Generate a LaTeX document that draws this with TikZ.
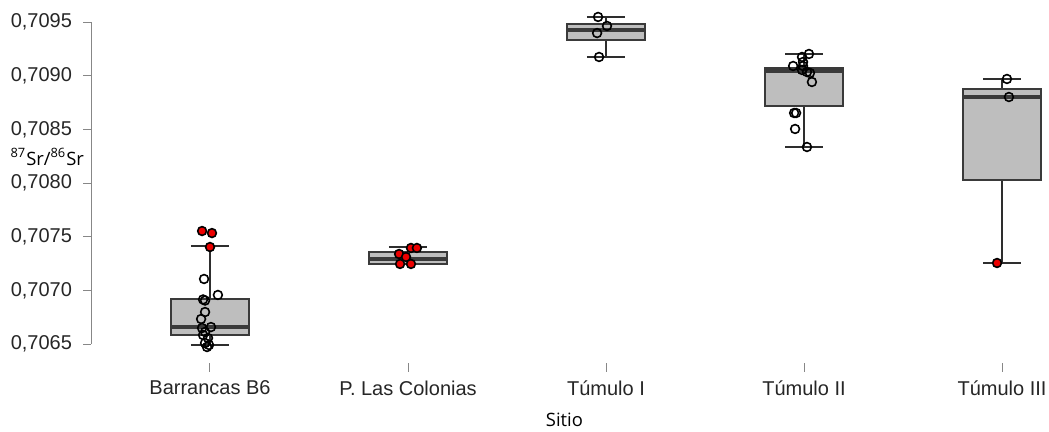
\documentclass[tikz,border=0pt]{standalone}
\usepackage{fontspec}
\setmainfont{Liberation Sans}
\newfontfamily\titlefont{Open Sans}
\usepackage{tikz}
\usetikzlibrary{positioning}
\definecolor{boxgray}{RGB}{190,190,190}
\definecolor{linegray}{RGB}{58,58,58}
\definecolor{axisgray}{RGB}{135,135,135}
\definecolor{ptred}{RGB}{236,0,0}

% #1 site, #2 lower whisker, #3 q1, #4 median, #5 q3, #6 upper whisker
\newcommand{\sitebox}[6]{%
  \draw[whisk] (#1,#2) -- (#1,#3) (#1,#5) -- (#1,#6);
  \draw[whisk] (#1-0.096,#2) -- (#1+0.096,#2);
  \draw[whisk] (#1-0.096,#6) -- (#1+0.096,#6);
  \draw[boxbody] (#1-0.197,#3) rectangle (#1+0.197,#5);
  \draw[median] (#1-0.197,#4) -- (#1+0.197,#4);
}

\begin{document}
\begin{tikzpicture}[
    x=99pt, y=5.365pt,
    whisk/.style={draw=linegray!80!black, line width=1pt},
    boxbody/.style={draw=linegray, fill=boxgray, line width=1pt},
    median/.style={draw=linegray, line width=2pt},
    axis/.style={draw=axisgray, line width=0.5pt},
    ticklab/.style={font=\fontsize{10}{12}\selectfont, text=black!85, inner sep=0pt},
    titlelab/.style={font=\titlefont\fontsize{9.2}{11}\selectfont, text=black, inner sep=0pt},
    openpt/.style={draw=black, line width=0.8pt},
    redpt/.style={draw=black, fill=ptred, line width=0.8pt}
]
\useasboundingbox (-0.0606,-8.108) rectangle (5.2374,32.06);

% Axes
\draw[axis] (0.399,0) -- (0.399,30);
\foreach \yy/\lab in {0/65,5/70,10/75,15/80,20/85,25/90,30/95} {
  \draw[axis] (0.359,\yy) -- (0.399,\yy);
  \node[ticklab, anchor=east] (ylab\lab) at (0.305,\yy) {0,70\lab};
}
\foreach \i/\name in {1/Barrancas B6, 2/P. Las Colonias, 3/Túmulo I, 4/Túmulo II, 5/Túmulo III} {
  \draw[axis] (\i,-1.77) -- (\i,-2.61);
  \node[ticklab] (site\i) at (\i,-4.1) {\name};
}
\node[titlelab] (xtitle) at (2.79,-7.1) {Sitio};
\node[titlelab] (ytitle) at (0.178,17.43) {\textsuperscript{87}Sr/\textsuperscript{86}Sr};

% Boxes
\sitebox{1}{-0.1}{0.8}{1.6}{4.2}{9.1}
\sitebox{2}{7.45}{7.45}{7.92}{8.57}{9.04}
\sitebox{3}{26.75}{28.33}{29.26}{29.82}{30.48}
\sitebox{4}{18.36}{22.18}{25.44}{25.72}{27.03}
\sitebox{5}{7.55}{15.28}{23.02}{23.77}{24.70}

% Points
\foreach \dx/\yy in {-0.03/6.06, 0.04/4.57, -0.035/4.15, -0.025/4.05, -0.025/2.98, -0.045/2.33,
    -0.04/1.49, 0.005/1.58, -0.025/1.12, -0.035/0.84, -0.01/0.56, -0.025/0.09, -0.005/-0.09, -0.015/-0.28}
  \draw[openpt] (1+\dx,\yy) circle[radius=2.2pt];
\foreach \dx/\yy in {-0.04/10.53, 0.01/10.34, 0.0/9.04}
  \draw[redpt] (1+\dx,\yy) circle[radius=2.2pt];
\foreach \dx/\yy in {0.015/8.95, 0.045/8.95, -0.045/8.39, -0.01/8.11, -0.04/7.46, 0.015/7.46}
  \draw[redpt] (2+\dx,\yy) circle[radius=2.2pt];
\foreach \dx/\yy in {-0.04/30.48, 0.005/29.64, -0.045/28.98, -0.035/26.75}
  \draw[openpt] (3+\dx,\yy) circle[radius=2.2pt];
\foreach \dx/\yy in {0.025/27.03, -0.01/26.75, -0.005/26.28, -0.055/25.91, -0.005/25.91, -0.01/25.54,
    0.015/25.35, 0.03/25.26, 0.04/24.42, -0.05/21.53, -0.04/21.53, -0.045/20.04, 0.015/18.36}
  \draw[openpt] (4+\dx,\yy) circle[radius=2.2pt];
\foreach \dx/\yy in {0.025/24.70, 0.035/23.02}
  \draw[openpt] (5+\dx,\yy) circle[radius=2.2pt];
\draw[redpt] (5-0.025,7.55) circle[radius=2.2pt];

\end{tikzpicture}
\end{document}
